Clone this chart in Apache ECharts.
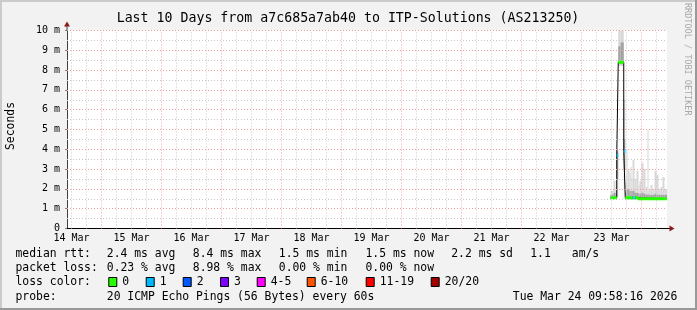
<!DOCTYPE html>
<html><head><meta charset="utf-8">
<script src="https://cdn.jsdelivr.net/npm/echarts@6/dist/echarts.min.js"></script>
<style>html,body{margin:0;padding:0;background:#f2f2f2}#c{width:697px;height:310px}</style>
</head><body><div id="c"></div>
<script>
// ---------- DATA ----------
const dayLabels = ['14 Mar','15 Mar','16 Mar','17 Mar','18 Mar','19 Mar','20 Mar','21 Mar','22 Mar','23 Mar'];
const dayLabelHours = [12,36,60,84,108,132,156,180,204,228]; // hours since 14 Mar 00:00 (noon of each day)
const yTicks = [0,1,2,3,4,5,6,7,8,9,10];
const yTickLabels = ['0','1 m','2 m','3 m','4 m','5 m','6 m','7 m','8 m','9 m','10 m'];
const timeStart = 10.2, timeEnd = 250.2; // hours since 14 Mar 00:00

// median rtt segments: [start hour, end hour, median (ms), loss class index]
const medianSeg = [
  [227.6, 230.1, 1.55, 0],
  [230.1, 230.7, 3.7, 1],
  [230.7, 232.9, 8.4, 0],
  [232.9, 233.5, 3.9, 1],
  [233.5, 236.2, 1.55, 0],
  [236.2, 236.6, 1.55, 1],
  [236.6, 237.4, 1.55, 0],
  [237.4, 237.8, 1.55, 1],
  [237.8, 238.5, 1.55, 0],
  [238.5, 250.2, 1.5, 0]
];

// smoke (ping spread) per time step: step i spans smokeHours[i]..smokeHours[i+1]
const smokeHours = [227.6,228.8,229.6,230.1,230.7,231.6,232.9,233.5,234.0,234.4,235.2,235.6,236.0,236.4,237.2,238.0,238.8,239.2,240.0,240.8,241.6,242.4,242.8,243.6,244.4,245.2,246.0,246.8,247.6,248.4,249.2,250.2];
const smokeMin  = [1.5,1.5,1.5,1.6,8.2,8.2,2.0,1.45,1.45,1.45,1.45,1.45,1.45,1.45,1.45,1.45,1.45,1.45,1.45,1.45,1.45,1.45,1.45,1.45,1.45,1.45,1.45,1.45,1.45,1.45,1.45];
const smokeMax  = [1.9,2.4,2.1,4.0,10.5,11,6.5,2.3,4.0,3.0,2.8,3.1,2.5,3.45,2.5,2.9,2.2,2.4,3.3,3.0,2.1,5.0,2.0,2.2,2.0,2.9,2.7,2.0,2.1,2.6,2.0];
const smokeLo   = [1.5,1.5,1.5,2.5,8.3,8.3,3.0,1.5,1.5,1.5,1.5,1.5,1.5,1.5,1.5,1.5,1.5,1.5,1.5,1.5,1.5,1.5,1.5,1.5,1.5,1.5,1.5,1.5,1.5,1.5,1.5];
const smokeHi   = [1.7,1.8,1.75,3.9,9.2,9.4,4.5,1.8,2.0,2.0,1.9,1.9,1.9,1.9,1.8,1.8,1.75,1.75,1.8,1.75,1.7,1.75,1.7,1.7,1.7,1.75,1.7,1.7,1.7,1.7,1.7];

const lossLabels = ['0','1','2','3','4-5','6-10','11-19','20/20'];
const lossColors = ['#26ff00','#00b8ff','#0059ff','#7e00ff','#ff00ff','#ff5500','#ff0000','#a10000'];

const titleText = 'Last 10 Days from a7c685a7ab40 to ITP-Solutions (AS213250)';
const rowRtt  = ['median rtt:','2.4 ms avg','8.4 ms max','1.5 ms min','1.5 ms now','2.2 ms sd','1.1','am/s'];
const rowLoss = ['packet loss:','0.23 % avg','8.98 % max','0.00 % min','0.00 % now'];
const rowProbe = ['probe:','20 ICMP Echo Pings (56 Bytes) every 60s','Tue Mar 24 09:58:16 2026'];

// ---------- LAYOUT ----------
const FONT = '"DejaVu Sans Mono"';
const colX = [15.5, 106.8, 192.8, 278.8, 365.5, 451.2, 530.2, 571.8];
const probeX = [15.5, 106.8, 512.8];
const boxX = [108.3, 145.7, 182.7, 220, 256.7, 306.7, 365.7, 430.7];
const rowY = [254, 268.3, 282, 296.8];
const lf = '11.4px ' + FONT;
const MAJOR = '#f0a0a0', MINOR = '#c8c8c8';

const chart = echarts.init(document.getElementById('c'), null, {renderer:'canvas', width:697, height:310});

// grid lines (x: 6h minor / 24h major; y: 0.5 minor / 1 major)
const gridLines = [];
for (let h = Math.ceil(timeStart / 6) * 6; h < timeEnd; h += 6) {
  gridLines.push({xAxis: h, lineStyle: {color: h % 24 === 0 ? MAJOR : MINOR, type: [1,2], width: 1}});
}
for (let k = 1; k <= 20; k++) {
  const v = k / 2;
  gridLines.push({yAxis: v, lineStyle: {color: k % 2 === 0 ? MAJOR : MINOR, type: [1,2], width: 1}});
}

const series = [];
series.push({
  type: 'line', data: [], z: 1, silent: true,
  markLine: {silent: true, symbol: ['none','none'], label: {show: false}, animation: false,
    lineStyle: {type: [1,2], width: 1}, data: gridLines}
});

function smokeSeries(lo, hi, color, z) {
  const data = lo.map((v, i) => [smokeHours[i], smokeHours[i+1], v, hi[i]]);
  series.push({
    type: 'custom', z: z, silent: true, data: data,
    encode: {x: [0, 1], y: [2, 3]},
    renderItem: (params, api) => {
      const p0 = api.coord([api.value(0), api.value(3)]);
      const p1 = api.coord([api.value(1), api.value(2)]);
      const cs = params.coordSys;
      const r = echarts.graphic.clipRectByRect(
        {x: p0[0], y: p0[1], width: p1[0] - p0[0], height: p1[1] - p0[1]},
        {x: cs.x, y: cs.y, width: cs.width, height: cs.height});
      if (!r) return null;
      return {type: 'rect', shape: r, style: {fill: color}};
    }
  });
}
smokeSeries(smokeMin, smokeMax, '#d8d8d8', 2);
smokeSeries(smokeLo, smokeHi, '#a4a4a4', 3);

const medianPts = medianSeg.map(s => [s[0], s[2]]);
const lastSeg = medianSeg[medianSeg.length - 1];
medianPts.push([lastSeg[1], lastSeg[2]]);
series.push({type:'line', step:'end', data: medianPts, showSymbol:false, silent:true, z:4,
  lineStyle:{color:'#000', width:1}});

lossColors.forEach((c, idx) => {
  const d = [];
  medianSeg.filter(s => s[3] === idx).forEach(s => { d.push([s[0], s[2]], [s[1], s[2]], [s[1], '-']); });
  if (d.length) series.push({type:'line', data: d, showSymbol:false, silent:true, z:5, connectNulls:false,
    lineStyle:{color:c, width:3}});
});

// ---------- GRAPHICS (text, legend, frame) ----------
const g = [];
g.push({type:'rect', shape:{x:0,y:0,width:697,height:2}, style:{fill:'#cbcbcb'}, silent:true});
g.push({type:'rect', shape:{x:0,y:0,width:2,height:310}, style:{fill:'#cbcbcb'}, silent:true});
g.push({type:'rect', shape:{x:0,y:308,width:697,height:2}, style:{fill:'#999999'}, silent:true});
g.push({type:'rect', shape:{x:695,y:0,width:2,height:310}, style:{fill:'#999999'}, silent:true});
g.push({type:'text', x:348, y:19, style:{text:titleText, font:'13.25px ' + FONT, fill:'#000', align:'center', verticalAlign:'middle'}});
g.push({type:'text', x:11, y:126, rotation:Math.PI/2, style:{text:'Seconds', font:lf, fill:'#000', align:'center', verticalAlign:'middle'}});
g.push({type:'text', x:687.5, y:3, rotation:-Math.PI/2, style:{text:'RRDTOOL / TOBI OETIKER', font:'8.5px ' + FONT, fill:'#a8a8a8', align:'left', verticalAlign:'middle'}});
// axis extensions & arrows
g.push({type:'line', shape:{x1:67,y1:23,x2:67,y2:30.5}, style:{stroke:'#404040', lineWidth:1}, z:10});
g.push({type:'polygon', shape:{points:[[64,26.5],[70,26.5],[67,21.5]]}, style:{fill:'#8b1a1a'}, z:10});
g.push({type:'line', shape:{x1:667,y1:228.5,x2:671,y2:228.5}, style:{stroke:'#000', lineWidth:1}, z:10});
g.push({type:'polygon', shape:{points:[[669.5,225.5],[669.5,231.5],[674.5,228.5]]}, style:{fill:'#8b1a1a'}, z:10});

rowRtt.forEach((t,i) => g.push({type:'text', x:colX[i], y:rowY[0], style:{text:t, font:lf, fill:'#000', verticalAlign:'middle'}}));
rowLoss.forEach((t,i) => g.push({type:'text', x:colX[i], y:rowY[1], style:{text:t, font:lf, fill:'#000', verticalAlign:'middle'}}));
g.push({type:'text', x:colX[0], y:rowY[2], style:{text:'loss color:', font:lf, fill:'#000', verticalAlign:'middle'}});
lossLabels.forEach((t,i) => {
  g.push({type:'rect', shape:{x:boxX[i]+0.5, y:rowY[2]-4.5, width:8, height:9}, style:{fill:lossColors[i], stroke:'#000', lineWidth:1}});
  g.push({type:'text', x:boxX[i]+14, y:rowY[2], style:{text:t, font:lf, fill:'#000', verticalAlign:'middle'}});
});
rowProbe.forEach((t,i) => g.push({type:'text', x:probeX[i], y:rowY[3], style:{text:t, font:lf, fill:'#000', verticalAlign:'middle'}}));

chart.setOption({
  animation: false,
  backgroundColor: '#f2f2f2',
  grid: {left:67, right:30, top:30.5, bottom:81.5, show:true, backgroundColor:'#ffffff', borderWidth:0},
  xAxis: {type:'value', min:timeStart, max:timeEnd,
    axisLine:{show:true, onZero:false, lineStyle:{color:'#000', width:1}},
    axisTick:{show:false}, splitLine:{show:false},
    axisLabel:{customValues: dayLabelHours, formatter: v => dayLabels[dayLabelHours.indexOf(v)],
      fontFamily:'DejaVu Sans Mono', fontSize:10, color:'#000', margin:5}},
  yAxis: {type:'value', min:0, max:10, interval:1,
    axisLine:{show:true, onZero:false, lineStyle:{color:'#404040', width:1}},
    axisTick:{show:true, length:2, lineStyle:{color:'#808080'}},
    axisLabel:{formatter: v => yTickLabels[yTicks.indexOf(v)],
      fontFamily:'DejaVu Sans Mono', fontSize:10, color:'#000', margin:7},
    splitLine:{show:false}},
  series: series,
  graphic: g
});
</script></body></html>
